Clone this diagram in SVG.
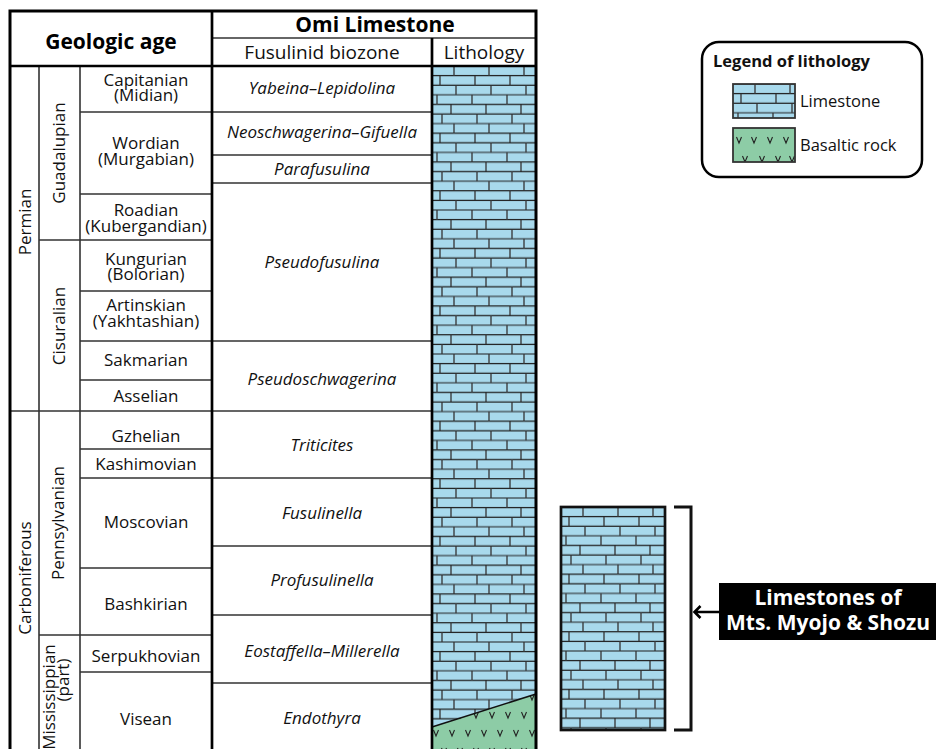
<svg xmlns="http://www.w3.org/2000/svg" width="936" height="749" viewBox="0 0 936 749">
<style>
.t{font-family:"Open Sans","Liberation Sans",sans-serif;font-size:17px;fill:#111;text-anchor:middle}
.i{font-style:italic}
.h{font-weight:bold;font-size:21px;fill:#000}
.s{font-size:19px}
.thin{stroke:#333;stroke-width:1.6;fill:none}
.thick{stroke:#000;stroke-width:2.7;fill:none}
.lg{font-family:"Open Sans","Liberation Sans",sans-serif;font-size:16.5px;fill:#111}
.lab{font-family:"Open Sans","Liberation Sans",sans-serif;font-size:21px;font-weight:bold;fill:#fff;text-anchor:middle}
.v{stroke:#222;stroke-width:1.1;fill:none}
</style>
<defs>
<pattern id="brick" patternUnits="userSpaceOnUse" width="105" height="57.6">
<rect width="105" height="57.6" fill="#a8d9ec"/>
<path d="M0,0H105M0,9.6H105M0,19.2H105M0,28.8H105M0,38.4H105M0,48H105M0,57.6H105" stroke="#1e1e1e" stroke-width="1.2"/>
<path d="M22,0V9.6M57,0V9.6M92,0V9.6M8,9.6V19.2M43,9.6V19.2M78,9.6V19.2M24,19.2V28.8M59,19.2V28.8M94,19.2V28.8M5,28.8V38.4M40,28.8V38.4M75,28.8V38.4M19,38.4V48M54,38.4V48M89,38.4V48M10,48V57.6M45,48V57.6M80,48V57.6" stroke="#333" stroke-width="1.3"/>
</pattern>
<pattern id="vpat" patternUnits="userSpaceOnUse" x="428" y="688" width="16" height="36">
<rect width="16" height="36" fill="#8dcca6"/>
<path class="v" d="M5.5,6L8,12L10.5,6M-2.5,24L0,30L2.5,24M13.5,24L16,30L18.5,24"/>
</pattern>
<clipPath id="swclip"><rect x="733" y="128" width="62" height="34"/></clipPath>
</defs>
<rect width="936" height="749" fill="#fff"/>

<g id="lithology-column">
<rect x="0" y="0" width="104" height="690" fill="url(#brick)" transform="translate(432,66)"/>
<polygon points="432,727 536,694 536,752 432,752" fill="url(#vpat)"/>
<path d="M432,727L536,694" stroke="#111" stroke-width="1.6"/>
</g>

<g id="table">
<path class="thin" d="M212,38H536"/>
<path class="thin" d="M39,66V760M80,66V760"/>
<path class="thin" d="M80,112H212M80,194H212M39,240H212M80,291H212M80,341H212M80,380H212M10,411H212M80,449H212M80,478H212M80,568H212M39,635H212M80,672H212"/>
<path class="thin" d="M212,112H432M212,155H432M212,183H432M212,341H432M212,411H432M212,478H432M212,546H432M212,615H432M212,683H432"/>
<path class="thick" d="M10,66H536M212,11V760M432,38V760"/>
<path d="M10,760V11H536V760" stroke="#000" stroke-width="3" fill="none"/>
</g>

<g id="headers">
<text class="t h" x="111" y="49">Geologic age</text>
<text class="t h" x="375" y="32">Omi Limestone</text>
<text class="t s" x="322" y="59">Fusulinid biozone</text>
<text class="t s" x="484" y="59">Lithology</text>
</g>

<g id="periods">
<text class="t" transform="translate(31,222) rotate(-90)">Permian</text>
<text class="t" transform="translate(31,578) rotate(-90)">Carboniferous</text>
</g>

<g id="epochs">
<text class="t" transform="translate(65,153) rotate(-90)">Guadalupian</text>
<text class="t" transform="translate(65,326) rotate(-90)">Cisuralian</text>
<text class="t" transform="translate(64,523) rotate(-90)">Pennsylvanian</text>
<text class="t" transform="rotate(-90)"><tspan x="-697" y="55">Mississippian</tspan><tspan x="-680" y="69">(part)</tspan></text>
</g>

<g id="stages">
<text class="t"><tspan x="146" y="86">Capitanian</tspan><tspan x="146" y="101">(Midian)</tspan></text>
<text class="t"><tspan x="146" y="149">Wordian</tspan><tspan x="146" y="165">(Murgabian)</tspan></text>
<text class="t"><tspan x="146" y="216">Roadian</tspan><tspan x="146" y="232">(Kubergandian)</tspan></text>
<text class="t"><tspan x="146" y="265">Kungurian</tspan><tspan x="146" y="280">(Bolorian)</tspan></text>
<text class="t"><tspan x="146" y="311">Artinskian</tspan><tspan x="146" y="327">(Yakhtashian)</tspan></text>
<text class="t" x="146" y="366">Sakmarian</text>
<text class="t" x="146" y="402">Asselian</text>
<text class="t" x="146" y="442">Gzhelian</text>
<text class="t" x="146" y="470">Kashimovian</text>
<text class="t" x="146" y="528">Moscovian</text>
<text class="t" x="146" y="610">Bashkirian</text>
<text class="t" x="146" y="662">Serpukhovian</text>
<text class="t" x="146" y="725">Visean</text>
</g>

<g id="biozones">
<text class="t i" x="322" y="94">Yabeina–Lepidolina</text>
<text class="t i" x="322" y="138">Neoschwagerina–Gifuella</text>
<text class="t i" x="322" y="175">Parafusulina</text>
<text class="t i" x="322" y="268">Pseudofusulina</text>
<text class="t i" x="322" y="385">Pseudoschwagerina</text>
<text class="t i" x="322" y="451">Triticites</text>
<text class="t i" x="322" y="519">Fusulinella</text>
<text class="t i" x="322" y="586">Profusulinella</text>
<text class="t i" x="322" y="657">Eostaffella–Millerella</text>
<text class="t i" x="322" y="724">Endothyra</text>
</g>

<g id="legend">
<rect x="702" y="42" width="220" height="135" rx="17" ry="17" fill="#fff" stroke="#000" stroke-width="2.5"/>
<text class="lg" x="713" y="67" font-weight="bold" font-size="16">Legend of lithology</text>
<rect x="0" y="0" width="62" height="34" fill="url(#brick)" stroke="#333" stroke-width="1.8" transform="translate(733,84)"/>
<text class="lg" x="800" y="107">Limestone</text>
<rect x="733" y="128" width="62" height="34" fill="#8dcca6"/>
<path class="v" clip-path="url(#swclip)" d="M736.5,137L739,143L741.5,137M751.5,137L754,143L756.5,137M767.5,137L770,143L772.5,137M783.5,137L786,143L788.5,137M742.5,156L745,162L747.5,156M759.5,156L762,162L764.5,156M775.5,156L778,162L780.5,156M789.5,156L792,162L794.5,156"/>
<rect x="733" y="128" width="62" height="34" fill="none" stroke="#333" stroke-width="1.8"/>
<text class="lg" x="800" y="151">Basaltic rock</text>
</g>

<g id="myojo-shozu-column">
<rect x="0" y="0" width="104" height="223" fill="url(#brick)" stroke="#111" stroke-width="2.7" transform="translate(561,507)"/>
</g>

<g id="label-myojo-shozu">
<rect x="719" y="583" width="217" height="57" fill="#000"/>
<text class="lab"><tspan x="828" y="605">Limestones of</tspan><tspan x="828" y="630">Mts. Myojo &amp; Shozu</tspan></text>
</g>

<g id="connectors">
<path d="M674,507H691V730H674" stroke="#111" stroke-width="3" fill="none"/>
<path d="M719,612H695M700.5,606L694.5,612L700.5,618" stroke="#000" stroke-width="2.6" fill="none"/>
</g>
</svg>
